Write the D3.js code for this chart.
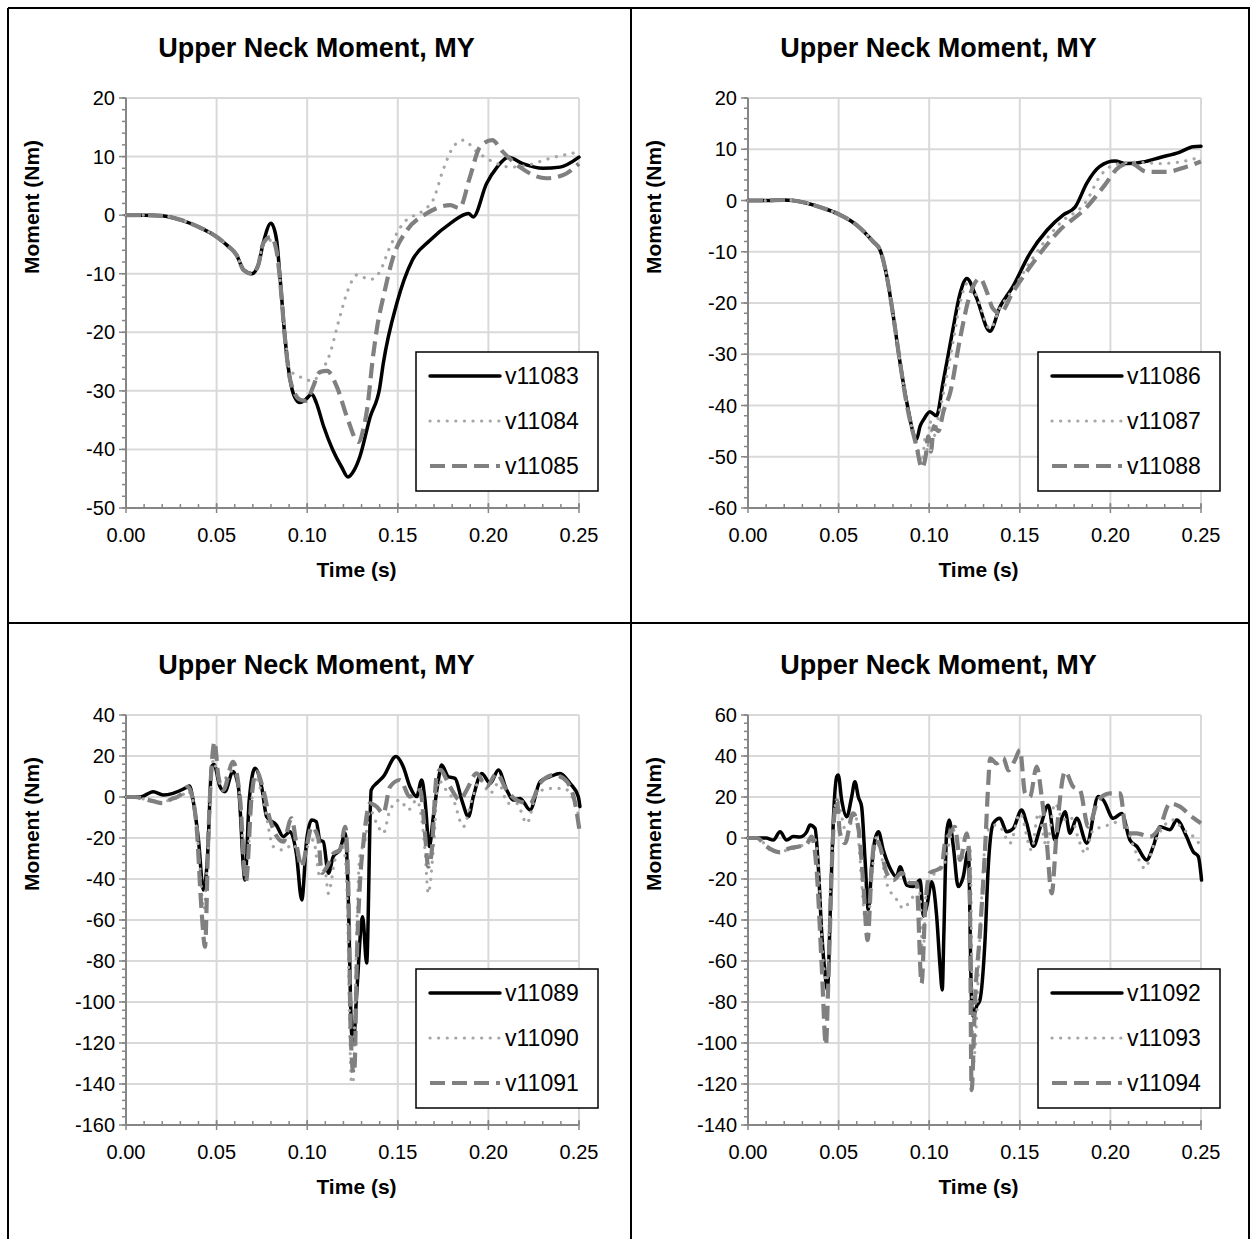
<!DOCTYPE html>
<html>
<head>
<meta charset="utf-8">
<script src="https://cdn.jsdelivr.net/npm/d3@7"></script>
<style>
  html, body { margin: 0; padding: 0; background: #fff; }
  svg { display: block; }
  text { font-family: "Liberation Sans", Arial, sans-serif; fill: #000; }
</style>
</head>
<body>
<svg id="chart" width="1250" height="1239"></svg>
<script>
// ---------------- DATA ----------------
const chartTitle = "Upper Neck Moment, MY";
const xLabel = "Time (s)";
const yLabel = "Moment (Nm)";
const xTicks = [0, 0.05, 0.10, 0.15, 0.20, 0.25];

const p1Names = ["v11083", "v11084", "v11085"];
const p2Names = ["v11086", "v11087", "v11088"];
const p3Names = ["v11089", "v11090", "v11091"];
const p4Names = ["v11092", "v11093", "v11094"];

const p1YTicks = [20, 10, 0, -10, -20, -30, -40, -50];
const p2YTicks = [20, 10, 0, -10, -20, -30, -40, -50, -60];
const p3YTicks = [40, 20, 0, -20, -40, -60, -80, -100, -120, -140, -160];
const p4YTicks = [60, 40, 20, 0, -20, -40, -60, -80, -100, -120, -140];

// Panel 1  [time s, moment Nm]
const p1Start = [[0,0],[0.01,0],[0.02,-0.1],[0.03,-0.8],[0.04,-2],[0.05,-3.7],[0.056,-5.2],[0.061,-6.8],[0.065,-9.4],[0.0695,-10],[0.073,-8.5],[0.0757,-4.8]];
const v11083 = [[0.080,-1.4],[0.083,-4],[0.085,-10.6],[0.0877,-20.8],[0.0905,-28],[0.093,-31],[0.096,-32],[0.099,-31.5],[0.1026,-30.6],[0.105,-32],[0.109,-36],[0.114,-40],[0.119,-43],[0.1225,-44.7],[0.126,-43.5],[0.129,-41.3],[0.1347,-34.5],[0.140,-29.5],[0.142,-25.3],[0.1495,-15],[0.158,-7.7],[0.1678,-4.3],[0.179,-1.4],[0.189,0.3],[0.1916,-0.3],[0.199,5.4],[0.2048,8.2],[0.211,9.9],[0.219,8.8],[0.230,8.0],[0.2395,8.2],[0.25,9.9]];
const v11084 = [[0.080,-4.3],[0.083,-6],[0.085,-11],[0.0877,-20],[0.0905,-26.5],[0.096,-27.6],[0.103,-28.3],[0.107,-27],[0.1126,-23.6],[0.117,-18.5],[0.1225,-12.8],[0.1275,-10.2],[0.1347,-11],[0.140,-9.7],[0.1457,-5.4],[0.153,-1.4],[0.164,0.8],[0.1695,2.6],[0.175,7.7],[0.1805,11.6],[0.186,12.8],[0.1937,10.8],[0.2026,9.1],[0.212,8.2],[0.2213,8.5],[0.234,9.7],[0.25,10.8]];
const v11085 = [[0.080,-3.7],[0.083,-6],[0.085,-11],[0.0877,-21],[0.0905,-28],[0.096,-31.5],[0.0996,-31.7],[0.103,-29.5],[0.107,-26.8],[0.111,-26.6],[0.1165,-29.4],[0.122,-34.5],[0.1282,-38.7],[0.131,-36.5],[0.133,-33.3],[0.1363,-24.2],[0.139,-18.4],[0.142,-14],[0.1474,-7.2],[0.155,-2.6],[0.166,0.3],[0.179,1.7],[0.184,1.2],[0.1898,6.5],[0.1953,11.6],[0.202,12.8],[0.208,10.8],[0.2174,8.2],[0.232,6.3],[0.241,6.8],[0.25,8.8]];

// Panel 2
const p2Start = [[0,0],[0.01,0],[0.02,0.1],[0.025,0],[0.0415,-1.5],[0.0508,-2.8],[0.06,-4.8],[0.069,-8],[0.0728,-9.6],[0.0766,-14.8],[0.0802,-22.6],[0.0839,-31.6]];
const v11086 = [[0.0877,-39.5],[0.093,-46.6],[0.095,-44],[0.097,-42.7],[0.1004,-41.2],[0.104,-42],[0.1076,-35.6],[0.113,-25.3],[0.117,-18.2],[0.1208,-15.2],[0.126,-18.9],[0.1335,-25.5],[0.139,-20.8],[0.146,-16.9],[0.1556,-10.3],[0.165,-5.8],[0.174,-2.8],[0.1805,-1.3],[0.187,3.4],[0.194,6.6],[0.2025,7.7],[0.209,7.2],[0.218,7.5],[0.2274,8.4],[0.238,9.4],[0.2457,10.5],[0.25,10.6]];
const v11087 = [[0.0877,-40],[0.093,-47.5],[0.096,-51],[0.098,-46],[0.099,-49],[0.1005,-43],[0.102,-47],[0.104,-44],[0.1076,-38],[0.113,-28],[0.117,-20],[0.1215,-16],[0.126,-18.5],[0.1335,-25],[0.139,-21],[0.146,-17.5],[0.157,-11.3],[0.172,-4.5],[0.187,0],[0.194,4.6],[0.2025,7],[0.213,7.5],[0.2274,7.2],[0.238,7.5],[0.25,8.5]];
const v11088 = [[0.0877,-40],[0.093,-48],[0.096,-52.2],[0.098,-50],[0.0995,-46],[0.101,-49],[0.1025,-44],[0.105,-45],[0.108,-41],[0.1115,-37.6],[0.117,-27],[0.122,-19],[0.128,-15.2],[0.132,-18],[0.135,-21],[0.139,-22],[0.146,-18],[0.157,-12.3],[0.172,-5.8],[0.187,-1.3],[0.196,2.6],[0.205,6.6],[0.211,7.3],[0.22,5.6],[0.231,5.6],[0.242,6.6],[0.25,7.6]];

// Panel 3
const v11089 = [[0,0],[0.008,0],[0.015,2.6],[0.0206,1],[0.026,1.8],[0.0335,4.7],[0.035,5.4],[0.037,-1.5],[0.040,-21],[0.0427,-45.4],[0.0449,-30.7],[0.0473,14.8],[0.0485,16],[0.0519,5],[0.0546,2.6],[0.059,12.4],[0.062,5],[0.0657,-40.5],[0.068,-1.5],[0.0712,14],[0.075,4.2],[0.0776,-9.6],[0.083,-13.7],[0.0868,-19.3],[0.0905,-16.9],[0.094,-27.5],[0.097,-50.2],[0.0997,-21],[0.1025,-11.2],[0.105,-12],[0.107,-21],[0.1089,-21.8],[0.1117,-37.2],[0.1144,-29],[0.118,-25.9],[0.121,-17.7],[0.1227,-50],[0.1245,-115],[0.1255,-120],[0.1273,-96],[0.1306,-58.4],[0.1328,-81],[0.1353,3.4],[0.1383,6.7],[0.142,9.9],[0.149,19.7],[0.153,14.8],[0.1567,5],[0.1604,0.2],[0.1632,8.3],[0.165,-1.5],[0.1674,-24.2],[0.1696,-9.6],[0.1724,8.3],[0.1742,15.6],[0.1779,9.9],[0.1816,9.1],[0.1853,-1.5],[0.189,-9.6],[0.1917,0.2],[0.1963,11.5],[0.201,6.7],[0.2055,13.2],[0.2101,3.4],[0.2138,-1.5],[0.2175,-0.7],[0.223,-6.3],[0.2285,7.5],[0.234,9.9],[0.2395,11.5],[0.245,6.7],[0.2496,0.2],[0.2505,-4.7]];
const v11090 = [[0,0],[0.01,-1],[0.019,-3.1],[0.025,-1],[0.03,0],[0.034,3],[0.037,-2],[0.040,-25],[0.043,-55],[0.045,-30],[0.0482,18],[0.0519,6.7],[0.059,13],[0.063,0],[0.0657,-38.9],[0.0712,9.9],[0.0758,-1.5],[0.0813,-24.2],[0.0868,-25.9],[0.0923,-23],[0.097,-32],[0.0997,-25],[0.1034,-21],[0.107,-38.9],[0.1098,-36],[0.1117,-47],[0.1153,-30.7],[0.1199,-24.2],[0.1218,-43],[0.1245,-139.7],[0.1255,-138],[0.1264,-100],[0.129,-29],[0.132,-21],[0.1347,-6.3],[0.1383,-12.8],[0.142,-17.7],[0.1457,-6.3],[0.1512,-1.5],[0.1558,-6.3],[0.1604,-1.5],[0.165,-25.9],[0.1668,-47],[0.1696,-25.9],[0.1724,8.3],[0.176,4.2],[0.1807,-1.5],[0.1862,-14.5],[0.1908,-1.5],[0.1954,8.3],[0.201,1.8],[0.2055,6.7],[0.211,-3.1],[0.2156,-3.1],[0.2212,-12.8],[0.2267,1.8],[0.234,4.2],[0.2414,4.2],[0.247,-1.5],[0.2505,-11.2]];
const v11091 = [[0,0],[0.005,0],[0.01,-1],[0.015,-2],[0.02,-3],[0.025,-1],[0.03,1],[0.0325,4],[0.034,5],[0.036,2],[0.039,-15],[0.0418,-56.7],[0.0436,-73],[0.0454,-20],[0.0482,24.5],[0.0488,27],[0.051,9.9],[0.0537,3.4],[0.059,17.2],[0.063,-1.5],[0.0662,-41.3],[0.0693,0],[0.072,12.4],[0.0758,3.4],[0.0795,-11.2],[0.0868,-21.8],[0.0914,-10.4],[0.094,-22.6],[0.097,-34],[0.0997,-24.2],[0.1025,-14.5],[0.1061,-20],[0.108,-37],[0.111,-34],[0.1144,-27.5],[0.118,-25.9],[0.121,-14.5],[0.1227,-43.7],[0.124,-115],[0.1255,-134.8],[0.1262,-131],[0.1273,-82.8],[0.129,-43.7],[0.131,-22.6],[0.1347,-3.1],[0.1383,-4.7],[0.142,-8],[0.1457,5],[0.1512,8.3],[0.1567,0.2],[0.1623,3.4],[0.165,-17.7],[0.1668,-34],[0.1686,-27.5],[0.1714,9.9],[0.1733,13.2],[0.1788,5],[0.1843,-1.5],[0.188,3.4],[0.1935,11.5],[0.199,5],[0.2045,11.5],[0.21,3.4],[0.2156,-1.5],[0.223,-3.1],[0.2285,6.7],[0.236,10.7],[0.2414,9.1],[0.247,0.2],[0.2505,-17.7]];

// Panel 4
const v11092 = [[0,0],[0.01,0],[0.014,-1],[0.0177,3],[0.0213,-1],[0.025,0.7],[0.0287,0.5],[0.0324,3],[0.0342,6.3],[0.037,4.7],[0.0388,-14],[0.0407,-46.5],[0.0425,-66],[0.0438,-74],[0.0456,-30],[0.0471,8.8],[0.049,30],[0.0498,30.7],[0.0517,18.5],[0.0545,10.4],[0.0572,20],[0.059,27.5],[0.0609,20],[0.0627,15.3],[0.0646,-10.7],[0.0664,-35],[0.0683,-14],[0.07,-1],[0.072,3],[0.0747,-6],[0.078,-14],[0.082,-18.9],[0.0839,-14],[0.0876,-23],[0.0912,-23.7],[0.095,-20.5],[0.0968,-38],[0.0987,-33],[0.1014,-21.3],[0.1041,-38],[0.106,-62.8],[0.1072,-74.1],[0.1081,-46.5],[0.1096,2.3],[0.111,8.8],[0.1133,-4],[0.116,-23.7],[0.1188,-18.9],[0.1216,-6],[0.1234,-80],[0.1243,-87],[0.1262,-82],[0.128,-79],[0.1308,-50],[0.1326,-14],[0.1354,7.2],[0.139,9.6],[0.1428,3],[0.1464,4.7],[0.151,13.7],[0.1538,7.2],[0.1575,-4],[0.1612,5],[0.1657,16],[0.1694,-1],[0.1722,7.2],[0.175,12.8],[0.1777,2.3],[0.1814,9.6],[0.187,-2.5],[0.1933,20.2],[0.1961,18.5],[0.2016,9.6],[0.2062,12],[0.2108,-1],[0.2145,-4],[0.22,-10.7],[0.2237,-4],[0.2274,5.5],[0.2329,4],[0.2366,8.8],[0.242,0.7],[0.2457,-6.7],[0.2485,-9],[0.2503,-20.5]];
const v11093 = [[0,0],[0.005,0],[0.014,-6.7],[0.0324,-2.6],[0.0365,0],[0.0388,-12],[0.0415,-60],[0.0435,-70],[0.0456,-20],[0.0475,10],[0.049,18.5],[0.0545,2.3],[0.059,12],[0.0655,-43.3],[0.071,0.7],[0.0765,-22],[0.082,-30],[0.0857,-34.3],[0.0912,-28.6],[0.0949,-27],[0.0964,-59.5],[0.0986,-23.7],[0.1041,-16.4],[0.1078,-14],[0.1133,4],[0.117,-10.7],[0.1225,-4.2],[0.1244,-110],[0.1253,-103],[0.128,-46.5],[0.1317,2.3],[0.1354,6.3],[0.139,5.5],[0.1446,-2.5],[0.1501,12],[0.1565,-5.9],[0.1602,12],[0.1648,-4],[0.1694,16.9],[0.174,8.8],[0.1777,10.4],[0.1832,-2.5],[0.1859,-7.5],[0.1906,4],[0.1961,5.5],[0.2016,7.2],[0.2071,8.8],[0.2127,-4],[0.2191,-14.8],[0.2237,-4],[0.2292,5.5],[0.2347,8.8],[0.2403,4],[0.2458,0.7],[0.25,-4]];
const v11094 = [[0,0],[0.005,0],[0.01,-4],[0.0177,-7],[0.023,-5],[0.0287,-4],[0.0324,-3],[0.0351,0.7],[0.0379,-16],[0.0407,-62.8],[0.043,-101],[0.0443,-71],[0.047,2.3],[0.049,18.5],[0.0508,2.3],[0.0535,-2.5],[0.058,12],[0.0609,5],[0.0636,-22],[0.066,-49.8],[0.0683,-14],[0.07,-1],[0.0728,-4],[0.0765,-17],[0.0802,-20.5],[0.0848,-17],[0.0894,-22],[0.093,-22],[0.0958,-70.9],[0.0977,-36],[0.1004,-17],[0.1041,-15.6],[0.1069,-14],[0.1087,-2.5],[0.1115,2.3],[0.1142,5.5],[0.117,-10.7],[0.1207,2.3],[0.1222,-10],[0.1234,-123],[0.1253,-79],[0.128,-46.5],[0.1308,-5.9],[0.1326,26.7],[0.1336,38.9],[0.1372,36.4],[0.1409,39],[0.1437,33],[0.1473,38],[0.1501,43],[0.1529,21.8],[0.1556,20],[0.1593,34.8],[0.1621,20],[0.1648,-1],[0.1676,-27],[0.1703,2.3],[0.175,32.4],[0.1795,25],[0.1832,23.4],[0.1878,5.5],[0.1933,18.5],[0.1998,21.8],[0.2053,21.8],[0.209,2.3],[0.2145,2.3],[0.2219,0.7],[0.2274,5.5],[0.2329,16.9],[0.2384,15.3],[0.2448,10.4],[0.25,7.2]];

// ---------------- LAYOUT / STYLE ----------------
const styles = [
  { stroke: "#000000", width: 3.5, dash: null, cap: "round" },
  { stroke: "#a6a6a6", width: 3.2, dash: "0.1,8.5", cap: "round" },
  { stroke: "#808080", width: 4.2, dash: "15,7", cap: "butt" }
];

const panels = [
  { left: 126, top: 98, names: p1Names, yTicks: p1YTicks, series: [p1Start.concat(v11083), p1Start.concat(v11084), p1Start.concat(v11085)] },
  { left: 748, top: 98, names: p2Names, yTicks: p2YTicks, series: [p2Start.concat(v11086), p2Start.concat(v11087), p2Start.concat(v11088)] },
  { left: 126, top: 715, names: p3Names, yTicks: p3YTicks, series: [v11089, v11090, v11091] },
  { left: 748, top: 715, names: p4Names, yTicks: p4YTicks, series: [v11092, v11093, v11094] }
];
const plotW = 453, plotH = 410;

const svg = d3.select("#chart");

// table borders
const border = svg.append("g").attr("stroke", "#000").attr("stroke-width", 2);
[[8, 8, 1250, 8], [8, 623, 1250, 623], [8, 8, 8, 1239], [631, 8, 631, 1239], [1249, 8, 1249, 623], [1249, 623, 1249, 1239]]
  .forEach(l => border.append("line").attr("x1", l[0]).attr("y1", l[1]).attr("x2", l[2]).attr("y2", l[3]));

panels.forEach(p => {
  const g = svg.append("g").attr("transform", `translate(${p.left},${p.top})`);
  const x = d3.scaleLinear().domain([0, 0.25]).range([0, plotW]);
  const yMax = d3.max(p.yTicks), yMin = d3.min(p.yTicks);
  const y = d3.scaleLinear().domain([yMin, yMax]).range([plotH, 0]);
  const yStep = p.yTicks[0] - p.yTicks[1];

  // gridlines
  g.append("g").selectAll("line").data(p.yTicks.filter(v => v !== yMin)).join("line")
    .attr("x1", 0).attr("x2", plotW).attr("y1", d => y(d)).attr("y2", d => y(d))
    .attr("stroke", "#d9d9d9").attr("stroke-width", 2);
  g.append("g").selectAll("line").data(xTicks.filter(v => v > 0)).join("line")
    .attr("y1", 0).attr("y2", plotH).attr("x1", d => x(d)).attr("x2", d => x(d))
    .attr("stroke", "#d9d9d9").attr("stroke-width", 2);

  // axes
  const axisColor = "#868686";
  const minorX = d3.range(0, 26).map(i => i * 0.01);
  g.append("g").selectAll("line").data(minorX).join("line")
    .attr("x1", d => x(d)).attr("x2", d => x(d))
    .attr("y1", plotH).attr("y2", plotH - 4)
    .attr("stroke", axisColor).attr("stroke-width", 1.5);
  g.append("g").selectAll("line").data(xTicks).join("line")
    .attr("x1", d => x(d)).attr("x2", d => x(d)).attr("y1", plotH - 5).attr("y2", plotH + 5)
    .attr("stroke", axisColor).attr("stroke-width", 1.5);
  const minorY = d3.range(0, Math.round((yMax - yMin) / (yStep / 5)) + 1).map(i => yMin + i * yStep / 5);
  g.append("g").selectAll("line").data(minorY).join("line")
    .attr("x1", -4).attr("x2", 0).attr("y1", d => y(d)).attr("y2", d => y(d))
    .attr("stroke", axisColor).attr("stroke-width", 1.5);
  g.append("g").selectAll("line").data(p.yTicks).join("line")
    .attr("x1", -7).attr("x2", 0).attr("y1", d => y(d)).attr("y2", d => y(d))
    .attr("stroke", axisColor).attr("stroke-width", 1.5);
  g.append("line").attr("x1", 0).attr("x2", 0).attr("y1", 0).attr("y2", plotH)
    .attr("stroke", axisColor).attr("stroke-width", 2);
  g.append("line").attr("x1", 0).attr("x2", plotW).attr("y1", plotH).attr("y2", plotH)
    .attr("stroke", axisColor).attr("stroke-width", 2);

  // tick labels (hyphen-minus as in the reference)
  g.append("g").selectAll("text").data(p.yTicks).join("text")
    .attr("x", -11).attr("y", d => y(d)).attr("dy", "0.35em")
    .attr("text-anchor", "end").attr("font-size", 20).text(d => String(d));
  g.append("g").selectAll("text").data(xTicks).join("text")
    .attr("x", d => x(d)).attr("y", plotH + 27).attr("dy", "0.35em")
    .attr("text-anchor", "middle").attr("font-size", 20).text(d => d.toFixed(2));

  // axis titles & chart title
  g.append("text").attr("x", plotW / 2 + 4).attr("y", plotH + 62).attr("dy", "0.35em")
    .attr("text-anchor", "middle").attr("font-size", 21).attr("font-weight", "bold").text(xLabel);
  g.append("text").attr("transform", `translate(-94,${plotH / 2 - 96}) rotate(-90)`).attr("dy", "0.35em")
    .attr("text-anchor", "middle").attr("font-size", 21).attr("font-weight", "bold").text(yLabel);
  g.append("text").attr("x", plotW / 2 - 36).attr("y", -50).attr("dy", "0.35em")
    .attr("text-anchor", "middle").attr("font-size", 27).attr("font-weight", "bold").text(chartTitle);

  // series
  const line = d3.line().x(d => x(d[0])).y(d => y(d[1])).curve(d3.curveMonotoneX);
  p.series.forEach((s, i) => {
    const st = styles[i];
    g.append("path").datum(s).attr("d", line).attr("fill", "none")
      .attr("stroke", st.stroke).attr("stroke-width", st.width)
      .attr("stroke-dasharray", st.dash).attr("stroke-linecap", st.cap)
      .attr("stroke-linejoin", "round");
  });

  // legend
  const lg = g.append("g").attr("transform", `translate(${290},${254})`);
  lg.append("rect").attr("x", 0).attr("y", 0).attr("width", 182).attr("height", 139)
    .attr("fill", "#fff").attr("stroke", "#000").attr("stroke-width", 1.5);
  p.names.forEach((n, i) => {
    const st = styles[i];
    const yy = 24 + i * 45;
    lg.append("line").attr("x1", 14).attr("x2", 84).attr("y1", yy).attr("y2", yy)
      .attr("stroke", st.stroke).attr("stroke-width", st.width)
      .attr("stroke-dasharray", st.dash).attr("stroke-linecap", st.cap);
    lg.append("text").attr("x", 89).attr("y", yy).attr("dy", "0.35em")
      .attr("font-size", 23).text(n);
  });
});
</script>
</body>
</html>
